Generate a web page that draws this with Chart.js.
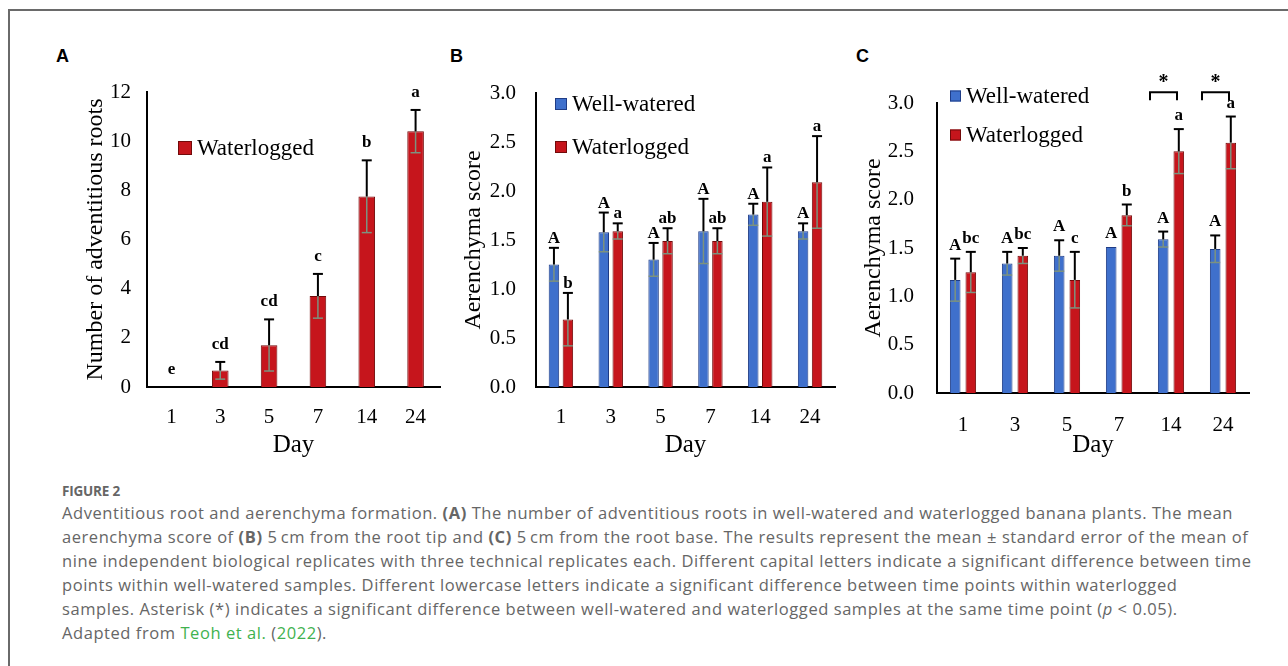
<!doctype html>
<html lang="en">
<head>
    <meta charset="UTF-8"/>
    <title>Figure 2 - Adventitious root and aerenchyma formation</title>
    <script src="https://cdn.jsdelivr.net/npm/chart.js@4/dist/chart.umd.min.js"></script>
    <style>
        html, body { margin: 0; padding: 0; background: #fff; }
        body { width: 1288px; height: 666px; position: relative; overflow: hidden; }
        .frame { position: absolute; left: 8px; top: 9px; width: 1300px; height: 700px;
                 border-top: 2px solid #6a6a6a; border-left: 2px solid #6a6a6a; }
        .panel-label { position: absolute; top: 47px; font: bold 18px "Liberation Sans", Arial, sans-serif; color: #000; line-height: 18px; }
        canvas { position: absolute; }
        #caption { position: absolute; left: 62px; top: 482px; color: #666; font-family: "Open Sans", sans-serif; white-space: nowrap; }
        #caption .fig { font-size: 13.5px; font-weight: 700; letter-spacing: -0.2px; line-height: 18px; margin-bottom: 1px; }
        #caption .text { font-size: 16.5px; line-height: 24px; }
        #caption b { font-weight: 700; }
        #caption .ref { color: #3fb24f; }
    </style>
</head>
<body>
<div class="frame"></div>
<div class="panel-label" style="left:56px">A</div>
<div class="panel-label" style="left:450px">B</div>
<div class="panel-label" style="left:856px">C</div>

<canvas id="chartA" width="410" height="400" style="left:40px; top:60px"></canvas>
<canvas id="chartB" width="400" height="400" style="left:450px; top:60px"></canvas>
<canvas id="chartC" width="440" height="400" style="left:840px; top:60px"></canvas>

<div id="caption">
    <div class="fig">FIGURE 2</div>
    <div class="text">
        <span id="firstLine">Adventitious root and aerenchyma formation. <b>(A)</b> The number of adventitious roots in well-watered and waterlogged banana plants. The mean</span><br>
        aerenchyma score of <b>(B)</b> 5&#8201;cm from the root tip and <b>(C)</b> 5&#8201;cm from the root base. The results represent the mean &plusmn; standard error of the mean of<br>
        nine independent biological replicates with three technical replicates each. Different capital letters indicate a significant difference between time<br>
        points within well-watered samples. Different lowercase letters indicate a significant difference between time points within waterlogged<br>
        samples. Asterisk (*) indicates a significant difference between well-watered and waterlogged samples at the same time point (<i>p</i> &lt; 0.05).<br>
        Adapted from <span class="ref">Teoh et al.</span> (<span class="ref">2022</span>).
    </div>
</div>

<script>
    const days = ['1', '3', '5', '7', '14', '24'];

    // (A) number of adventitious roots
    const rootsWaterlogged = [0, 0.67, 1.7, 3.7, 7.75, 10.4];
    const rootsWaterloggedSE = [0, 0.35, 1.05, 0.9, 1.47, 0.87];
    const rootsLetters = ['e', 'cd', 'cd', 'c', 'b', 'a'];
    const rootsTicks = [0, 2, 4, 6, 8, 10, 12];

    // (B) aerenchyma score, 5 cm from the root tip
    const tipWellWatered = [1.25, 1.58, 1.30, 1.59, 1.76, 1.59];
    const tipWellWateredSE = [0.17, 0.20, 0.17, 0.33, 0.11, 0.08];
    const tipWellWateredLetters = ['A', 'A', 'A', 'A', 'A', 'A'];
    const tipWaterlogged = [0.69, 1.59, 1.49, 1.49, 1.89, 2.09];
    const tipWaterloggedSE = [0.27, 0.08, 0.13, 0.13, 0.35, 0.47];
    const tipWaterloggedLetters = ['b', 'a', 'ab', 'ab', 'a', 'a'];

    // (C) aerenchyma score, 5 cm from the root base
    const baseWellWatered = [1.17, 1.34, 1.42, 1.51, 1.59, 1.49];
    const baseWellWateredSE = [0.22, 0.12, 0.16, 0, 0.08, 0.14];
    const baseWellWateredLetters = ['A', 'A', 'A', 'A', 'A', 'A'];
    const baseWaterlogged = [1.25, 1.42, 1.17, 1.84, 2.50, 2.59];
    const baseWaterloggedSE = [0.21, 0.08, 0.29, 0.11, 0.23, 0.27];
    const baseWaterloggedLetters = ['bc', 'bc', 'c', 'b', 'a', 'a'];
    const baseSignificant = [false, false, false, false, true, true];

    const scoreTicks = [0, 0.5, 1, 1.5, 2, 2.5, 3];

    const SERIF = '"Liberation Serif", "Times New Roman", serif';
    const INK = '#000';
    const RED = '#c6151c', RED_EDGE = '#720a0a';
    const BLUE = '#3f70cc', BLUE_EDGE = '#1f3c86';

    // stretch the caption a little so its first line spans the same width as the figure's
    const first = document.getElementById('firstLine');
    const chars = first.textContent.length;
    document.querySelector('#caption .text').style.letterSpacing = ((1171 - first.getBoundingClientRect().width) / chars) + 'px';

    function line(ctx, x1, y1, x2, y2) {
        ctx.beginPath();
        ctx.moveTo(x1, y1);
        ctx.lineTo(x2, y2);
        ctx.stroke();
    }

    // error bars, significance letters, in-plot legend and asterisk brackets
    const annotate = {
        id: 'annotate',
        afterDatasetsDraw(chart, args, opts) {
            const {ctx, chartArea} = chart;
            const y = chart.scales.y;
            ctx.save();
            chart.data.datasets.forEach((ds, i) => {
                chart.getDatasetMeta(i).data.forEach((bar, j) => {
                    const mean = ds.data[j], se = ds.se[j];
                    const yMean = y.getPixelForValue(mean);
                    const yTop = y.getPixelForValue(mean + se);
                    const yLow = y.getPixelForValue(mean - se);
                    const x = bar.x;
                    if (se > 0) {
                        // lower half sits inside the bar and shows grey
                        ctx.strokeStyle = '#7c927f';
                        ctx.lineWidth = 1.5;
                        line(ctx, x, yMean, x, yLow);
                        line(ctx, x - opts.cap, yLow, x + opts.cap, yLow);
                        ctx.strokeStyle = '#000';
                        ctx.lineWidth = 2;
                        line(ctx, x, yMean, x, yTop);
                        line(ctx, x - opts.cap, yTop, x + opts.cap, yTop);
                    }
                    ctx.fillStyle = INK;
                    ctx.font = 'bold 17px ' + SERIF;
                    ctx.textAlign = 'center';
                    ctx.textBaseline = 'alphabetic';
                    ctx.fillText(ds.letters[j], x, yTop - opts.letterGap);
                });
            });

            // legend inside the plot
            const lg = opts.legend;
            ctx.font = '23px ' + SERIF;
            ctx.textAlign = 'left';
            ctx.textBaseline = 'middle';
            chart.data.datasets.forEach((ds, i) => {
                const lx = chartArea.left + lg.x;
                const ly = chartArea.top + lg.y + i * lg.spacing;
                ctx.fillStyle = ds.backgroundColor;
                ctx.strokeStyle = ds.borderColor;
                ctx.lineWidth = 1;
                ctx.fillRect(lx, ly - lg.size / 2, lg.size, lg.size);
                ctx.strokeRect(lx + 0.5, ly - lg.size / 2 + 0.5, lg.size - 1, lg.size - 1);
                ctx.fillStyle = INK;
                ctx.fillText(ds.label, lx + lg.size + 5, ly + 1);
            });

            // brackets with asterisks
            (opts.brackets || []).forEach((sig, j) => {
                if (!sig) return;
                const cx = chart.scales.x.getPixelForValue(j);
                const yb = y.getPixelForValue(3.11);
                const left = cx - 21, right = cx + 6;
                ctx.strokeStyle = '#000';
                ctx.lineWidth = 2;
                ctx.beginPath();
                ctx.moveTo(left, yb + 8);
                ctx.lineTo(left, yb);
                ctx.lineTo(right, yb);
                ctx.lineTo(right, yb + 8);
                ctx.stroke();
                ctx.fillStyle = INK;
                ctx.font = 'bold 20px ' + SERIF;
                ctx.textAlign = 'center';
                ctx.textBaseline = 'middle';
                ctx.fillText('*', (left + right) / 2, yb - 10);
            });
            ctx.restore();
        }
    };

    function series(label, data, se, letters, fill, edge) {
        return {label, data, se, letters, backgroundColor: fill, borderColor: edge, borderWidth: 1};
    }

    function panel(id, datasets, p) {
        return new Chart(document.getElementById(id), {
            type: 'bar',
            data: {labels: days, datasets},
            options: {
                responsive: false,
                animation: false,
                layout: {padding: p.padding},
                datasets: {bar: {categoryPercentage: p.cat, barPercentage: p.bar}},
                plugins: {
                    legend: {display: false},
                    tooltip: {enabled: false},
                    annotate: p.annotate
                },
                scales: {
                    x: {
                        grid: {display: false, drawTicks: false},
                        border: {color: '#000', width: 2},
                        ticks: {color: INK, font: {family: SERIF, size: 21}, padding: p.xPad},
                        title: {display: true, text: 'Day', color: INK, font: {family: SERIF, size: 25}, padding: 0},
                        afterFit: (s) => { s.height = p.xHeight; }
                    },
                    y: {
                        min: 0,
                        max: p.max,
                        grid: {display: false, drawTicks: false},
                        border: {color: '#000', width: 2},
                        ticks: {color: INK, font: {family: SERIF, size: 21}, padding: p.yPad, callback: p.fmt},
                        afterBuildTicks: (s) => { s.ticks = p.ticks.map((v) => ({value: v})); },
                        title: {display: true, text: p.yTitle, color: INK, font: {family: SERIF, size: 24}, padding: {top: p.titlePad, bottom: 0}},
                        afterFit: (s) => { s.width = p.yWidth; }
                    }
                }
            },
            plugins: [annotate]
        });
    }

    panel('chartA', [
        series('Waterlogged', rootsWaterlogged, rootsWaterloggedSE, rootsLetters, RED, RED_EDGE)
    ], {
        padding: {top: 32, right: 10, left: 0, bottom: 0},
        cat: 0.5, bar: 0.68, max: 12, ticks: rootsTicks, fmt: (v) => v,
        yTitle: 'Number of adventitious roots', yWidth: 107, xHeight: 73, titlePad: 41, xPad: 18, yPad: 16,
        annotate: {cap: 5, letterGap: 13, legend: {x: 31, y: 56, size: 14, spacing: 0}}
    });

    panel('chartB', [
        series('Well-watered', tipWellWatered, tipWellWateredSE, tipWellWateredLetters, BLUE, BLUE_EDGE),
        series('Waterlogged', tipWaterlogged, tipWaterloggedSE, tipWaterloggedLetters, RED, RED_EDGE)
    ], {
        padding: {top: 33, right: 15, left: 0, bottom: 0},
        cat: 0.56, bar: 0.75, max: 3, ticks: scoreTicks, fmt: (v) => v.toFixed(1),
        yTitle: 'Aerenchyma score', yWidth: 86, xHeight: 73, titlePad: 9, xPad: 18, yPad: 20,
        annotate: {cap: 5, letterGap: 5, legend: {x: 19, y: 11, size: 12, spacing: 43}}
    });

    panel('chartC', [
        series('Well-watered', baseWellWatered, baseWellWateredSE, baseWellWateredLetters, BLUE, BLUE_EDGE),
        series('Waterlogged', baseWaterlogged, baseWaterloggedSE, baseWaterloggedLetters, RED, RED_EDGE)
    ], {
        padding: {top: 43, right: 31, left: 0, bottom: 0},
        cat: 0.6, bar: 0.68, max: 3, ticks: scoreTicks, fmt: (v) => v.toFixed(1),
        yTitle: 'Aerenchyma score', yWidth: 97, xHeight: 67, titlePad: 19, xPad: 20, yPad: 23,
        annotate: {cap: 5, letterGap: 9, legend: {x: 13, y: -7, size: 11, spacing: 39}, brackets: baseSignificant}
    });
</script>
</body>
</html>
